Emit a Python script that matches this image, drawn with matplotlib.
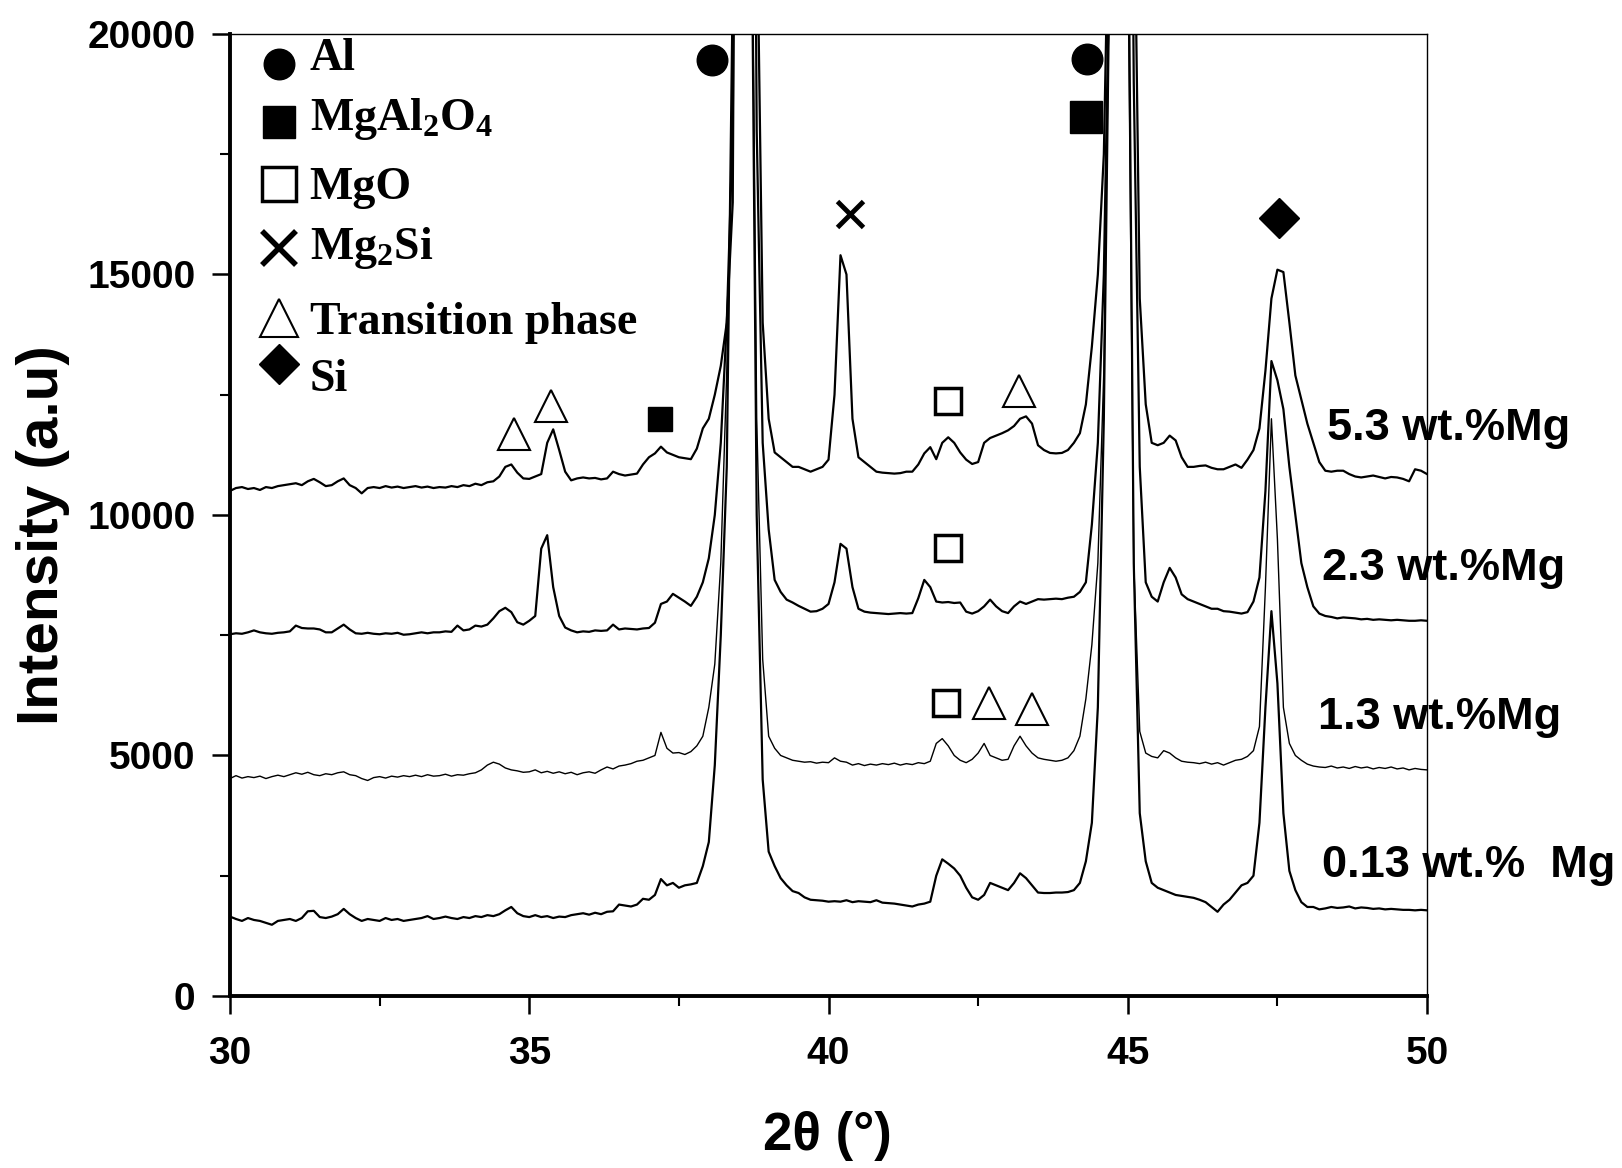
import numpy as np
import matplotlib
matplotlib.use('Agg')
import matplotlib.pyplot as plt
from matplotlib.ticker import MultipleLocator

plt.rcParams['font.family'] = ['Liberation Sans', 'DejaVu Sans']
plt.rcParams['mathtext.fontset'] = 'custom'
plt.rcParams['mathtext.rm'] = 'Liberation Serif:bold'
plt.rcParams['mathtext.it'] = 'Liberation Serif:bold'
plt.rcParams['mathtext.bf'] = 'Liberation Serif:bold'

# 2theta grid, 0.1 deg step from 30 to 50
two_theta = np.arange(300, 501) / 10.0

# intensities, one row per degree (30.0 .. 49.9), last value at 50.0
mg_53 = [
    10500, 10560, 10580, 10540, 10560, 10520, 10580, 10560, 10600, 10620,
    10640, 10660, 10620, 10700, 10750, 10680, 10600, 10620, 10700, 10760,
    10620, 10560, 10450, 10560, 10580, 10560, 10600, 10570, 10590, 10560,
    10580, 10600, 10570, 10590, 10560, 10580, 10570, 10600, 10580, 10620,
    10600, 10650, 10620, 10680, 10700, 10800, 11000, 11050, 10880, 10760,
    10750, 10800, 10850, 11500, 11780, 11350, 10900, 10720, 10760, 10780,
    10760, 10770, 10740, 10760, 10900, 10850, 10820, 10840, 10860, 11050,
    11200, 11280, 11420, 11300, 11250, 11200, 11180, 11160, 11380, 11800,
    12000, 12500, 13100, 14000, 16500, 40000, 45000, 40000, 23000, 14000,
    12000, 11300, 11200, 11100, 11000, 11000, 10950, 10900, 10950, 11000,
    11150, 12500, 15400, 15000, 12000, 11200, 11100, 11000, 10900, 10880,
    10870, 10860, 10870, 10900, 10900, 11050, 11280, 11410, 11160, 11500,
    11615, 11500, 11300, 11150, 11060, 11100, 11500, 11600, 11650, 11700,
    11760, 11850, 12000, 12050, 11900, 11450, 11350, 11290, 11280, 11290,
    11350, 11500, 11700, 12300, 13500, 15000, 17500, 24000, 40000, 45000,
    40000, 24000, 14500, 12300, 11500, 11450, 11500, 11650, 11550, 11200,
    11000, 11000, 11020, 11030, 10980, 10950, 10950, 11000, 11050, 10980,
    11150, 11350, 11800, 13000, 14500, 15100, 15050, 14000, 12900, 12400,
    11900, 11500, 11100, 10920, 10900, 10920, 10920, 10850, 10800, 10780,
    10800, 10820, 10790, 10760, 10790, 10780, 10750, 10700, 10950, 10920,
    10850]

mg_23 = [
    7520, 7540, 7530, 7560, 7600, 7560, 7540, 7530, 7550, 7560,
    7580, 7700, 7650, 7640, 7640, 7620, 7560, 7560, 7640, 7720,
    7620, 7540, 7530, 7550, 7530, 7520, 7540, 7530, 7550, 7510,
    7520, 7540, 7560, 7540, 7560, 7560, 7580, 7570, 7700, 7600,
    7620, 7700, 7680, 7720, 7850, 8000, 8070, 7980, 7770, 7720,
    7800, 7900, 9300, 9580, 8500, 7900, 7660, 7600, 7560, 7580,
    7570, 7600, 7590, 7600, 7720, 7620, 7640, 7630, 7620, 7640,
    7650, 7760, 8150, 8200, 8360, 8280, 8200, 8110, 8300, 8600,
    9100, 10000, 11500, 14000, 18000, 40000, 45000, 38000, 18000, 11500,
    9700, 8650, 8400, 8240, 8180, 8110, 8050, 7990, 8000, 8050,
    8150, 8600, 9400, 9300, 8500, 8050, 7990, 7970, 7960, 7950,
    7940, 7950, 7960, 7950, 7960, 8270, 8650, 8500, 8200, 8180,
    8190, 8170, 8180, 7990, 7950, 8000, 8100, 8240, 8100, 8000,
    7960, 8100, 8200, 8150, 8200, 8250, 8240, 8250, 8260, 8250,
    8280, 8300, 8400, 8600, 9800, 11500, 15000, 22000, 45000, 45000,
    35000, 19000, 11000, 8600, 8300, 8200, 8600, 8900, 8700, 8350,
    8250, 8200, 8150, 8100, 8050, 8050, 8000, 7990, 7970, 7950,
    7980, 8200, 8700, 10500, 13200, 12800, 12200, 11000, 10000, 9000,
    8500, 8100, 7950, 7900, 7880, 7850, 7870, 7860, 7850, 7830,
    7840, 7820, 7830, 7820, 7810, 7820, 7810, 7800, 7800, 7810,
    7800]

mg_13 = [
    4520, 4580, 4530, 4560, 4540, 4570, 4520, 4560, 4590, 4560,
    4600, 4640, 4610, 4650, 4600, 4580, 4620, 4600, 4640, 4660,
    4600, 4580, 4520, 4480, 4540, 4560, 4530, 4570, 4550, 4580,
    4560, 4590, 4560, 4600, 4570, 4580, 4610, 4570, 4600, 4590,
    4620, 4640, 4700, 4800, 4860, 4820, 4740, 4700, 4680, 4650,
    4660, 4700, 4640, 4670, 4630, 4660, 4620, 4650, 4600, 4640,
    4660, 4630, 4700, 4760, 4720, 4780, 4800, 4830, 4880, 4900,
    4950, 5000, 5480, 5150, 5050, 5060, 5020, 5080, 5200, 5400,
    6000, 6900, 9000, 13000, 19000, 28000, 35000, 26000, 12000, 7000,
    5400, 5150, 5000, 4950, 4900, 4880, 4860, 4870, 4840, 4860,
    4850, 4950, 4880, 4860, 4800, 4830, 4790, 4820, 4800, 4830,
    4810, 4840, 4800, 4830, 4810, 4850, 4830, 4880, 5250, 5350,
    5200, 5000, 4900, 4850, 4920, 5050, 5250, 5000, 4950, 4900,
    4920, 5200, 5400, 5200, 5050, 4950, 4920, 4900, 4880, 4900,
    4950, 5100, 5400, 6180, 7300, 9000, 13000, 22000, 35000, 35000,
    22000, 9000, 5500, 5050, 4980, 4950, 5100, 5050, 4950, 4880,
    4860, 4850, 4830, 4860, 4820, 4850, 4800, 4850, 4900, 4920,
    4980, 5100, 5600, 8500, 12000, 9500, 6000, 5250, 5000, 4900,
    4820, 4780, 4760, 4750, 4780, 4740, 4760, 4730, 4770, 4740,
    4760, 4720, 4750, 4730, 4760, 4720, 4740, 4700, 4730, 4710,
    4700]

mg_013 = [
    1650, 1600, 1560, 1620, 1580, 1560, 1520, 1480, 1560, 1580,
    1600, 1560, 1620, 1760, 1770, 1640, 1620, 1650, 1700, 1810,
    1700, 1620, 1560, 1600, 1580, 1560, 1620, 1580, 1600, 1560,
    1580, 1600, 1620, 1660, 1600, 1620, 1650, 1620, 1600, 1640,
    1620, 1660, 1640, 1680, 1660, 1700, 1780, 1850, 1720, 1660,
    1640, 1680, 1640, 1660, 1620, 1650, 1640, 1680, 1700, 1720,
    1690, 1730, 1700, 1750, 1760, 1900, 1880, 1860, 1900, 2020,
    2000, 2100, 2430, 2300, 2350, 2250, 2300, 2320, 2350, 2700,
    3200, 4800, 7500, 11000, 21000, 35000, 35000, 25000, 10000, 4500,
    3000, 2700, 2450, 2300, 2180, 2140, 2050, 2000, 1990, 1980,
    1960, 1970, 1960, 1990, 1950, 1970, 1960, 1950, 1990, 1940,
    1930, 1920, 1900, 1880, 1860, 1900, 1920, 1960, 2500, 2840,
    2750, 2650, 2500, 2250, 2050, 2000, 2100, 2350, 2300, 2250,
    2200, 2350, 2550, 2450, 2300, 2150, 2140, 2140, 2150, 2150,
    2160, 2200, 2350, 2800, 3600, 6000, 12000, 22000, 38000, 38000,
    24000, 9000, 3800, 2800, 2350, 2250, 2200, 2150, 2100, 2080,
    2060, 2040, 2000, 1950, 1850, 1750, 1900, 2000, 2150, 2300,
    2350, 2500, 3600, 6000, 8000, 6500, 3800, 2600, 2200, 1950,
    1850, 1850, 1800, 1820, 1850, 1830, 1840, 1860, 1820, 1840,
    1830, 1810, 1820, 1800, 1810, 1800, 1790, 1790, 1780, 1790,
    1780]

sample_labels = ['5.3 wt.%Mg', '2.3 wt.%Mg', '1.3 wt.%Mg', '0.13 wt.%  Mg']
label_x = [48.33, 48.25, 48.17, 48.24]
label_y = [11790, 8880, 5780, 2720]

# phase marks above the peaks: (2theta, intensity, phase)
peak_marks = [
    (38.05, 19460, 'Al'), (44.32, 19480, 'Al'),
    (44.30, 18280, 'MgAl2O4'), (37.18, 12000, 'MgAl2O4_small'),
    (40.36, 16260, 'Mg2Si'), (47.53, 16170, 'Si'),
    (34.75, 11680, 'T'), (35.37, 12260, 'T'), (43.18, 12580, 'T'),
    (42.68, 6090, 'T'), (43.40, 5960, 'T'),
    (42.00, 12370, 'MgO'), (42.00, 9310, 'MgO'), (41.97, 6090, 'MgO'),
]

marker_style = {
    'Al': dict(marker='o', ms=22, mfc='black', mec='black'),
    'MgAl2O4': dict(marker='s', ms=23, mfc='black', mec='black'),
    'MgAl2O4_small': dict(marker='s', ms=17, mfc='black', mec='black'),
    'Mg2Si': dict(marker='x', ms=19, mec='black', mew=3.5),
    'Si': dict(marker='D', ms=20, mfc='black', mec='black'),
    'T': dict(marker='^', ms=23, mfc='white', mec='black', mew=1.5),
    'MgO': dict(marker='s', ms=19, mfc='white', mec='black', mew=2.5),
}

legend_items = [
    ('Al', 'o', 'black', 22, 1.0),
    ('MgAl$_2$O$_4$', 's', 'black', 23, 1.0),
    ('MgO', 's', 'white', 24, 2.5),
    ('Mg$_2$Si', 'x', 'black', 24, 4.0),
    ('Transition phase', '^', 'white', 28, 1.5),
    ('Si', 'D', 'black', 20, 1.0),
]
legend_marker_y = [19380, 18170, 16880, 15550, 14090, 13140]
legend_text_y = [19480, 18240, 16800, 15550, 14000, 12800]

fig = plt.figure(figsize=(16.22, 11.68), dpi=100)
ax = fig.add_axes([0.1418, 0.1473, 0.7380, 0.8236])

ax.plot(two_theta, mg_53, color='black', lw=1.6)
ax.plot(two_theta, mg_23, color='black', lw=1.6)
ax.plot(two_theta, mg_13, color='black', lw=1.0)
ax.plot(two_theta, mg_013, color='black', lw=1.6)

for x, y, ph in peak_marks:
    ax.plot([x], [y], ls='none', clip_on=False, **marker_style[ph])

for (name, mk, fc, ms, mew), my, ty in zip(legend_items, legend_marker_y, legend_text_y):
    if mk == 'x':
        ax.plot([30.82], [my], marker=mk, ms=ms, mec='black', mew=mew, ls='none')
    else:
        ax.plot([30.82], [my], marker=mk, ms=ms, mfc=fc, mec='black', mew=mew, ls='none')
    ax.text(31.33, ty, name, family=['Liberation Serif', 'DejaVu Serif'],
            fontweight='bold', fontsize=33, va='center', ha='left')

for lab, lx, ly in zip(sample_labels, label_x, label_y):
    ax.text(lx, ly, lab, fontsize=32.5, fontweight='bold', va='center', ha='left', clip_on=False)

ax.set_xlim(30, 50)
ax.set_ylim(0, 20000)
ax.xaxis.set_major_locator(MultipleLocator(5))
ax.xaxis.set_minor_locator(MultipleLocator(2.5))
ax.yaxis.set_major_locator(MultipleLocator(5000))
ax.yaxis.set_minor_locator(MultipleLocator(2500))

ax.tick_params(which='major', direction='out', length=13, width=1.8, labelsize=28, pad=12)
ax.tick_params(which='minor', direction='out', length=7, width=1.5)
ax.tick_params(axis='x', which='major', pad=16)
for lbl in ax.get_xticklabels() + ax.get_yticklabels():
    lbl.set_fontweight('bold')

ax.spines['left'].set_linewidth(2.8)
ax.spines['bottom'].set_linewidth(2.8)
ax.spines['top'].set_linewidth(1.0)
ax.spines['right'].set_linewidth(1.0)

fig.text(0.0265, 0.542, 'Intensity (a.u)', rotation=90, fontsize=42, fontweight='bold',
         ha='center', va='center')
fig.text(0.510, 0.027, '2θ (°)', fontsize=38, fontweight='bold', ha='center', va='center')

fig.savefig('out.png', dpi=100)
